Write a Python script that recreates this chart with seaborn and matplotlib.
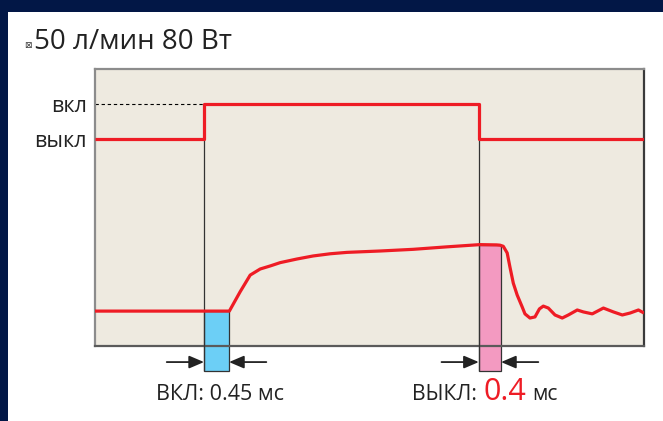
import numpy as np
import pandas as pd
import seaborn as sns
import matplotlib.pyplot as plt

sns.set_theme(style="white")
plt.rcParams['font.family'] = ['Open Sans', 'DejaVu Sans']

# ---------------- data ----------------
title_text = "50 л/мин 80 Вт"
state_labels = ["вкл", "выкл"]
level_on = 87.4      # signal level "вкл"
level_off = 74.7     # signal level "выкл"
t_on = 1.96          # ms, switch-on moment
t_off = 6.90         # ms, switch-off moment
t_end = 9.87
resp_on = 0.45       # ms
resp_off = 0.40      # ms

# control signal (step)
sig_t = [0.0, t_on, t_on, t_off, t_off, t_end]
sig_v = [level_off, level_off, level_on, level_on, level_off, level_off]

# flow response curve
flow_t = [0.0, 2.415, 2.61, 2.79, 2.97, 3.15, 3.33, 3.63, 3.92, 4.23, 4.53,
          5.13, 5.72, 6.33, 6.92, 7.22, 7.28, 7.34, 7.41, 7.46, 7.52, 7.59,
          7.68, 7.73, 7.82, 7.91, 7.99, 8.06, 8.15, 8.27, 8.40, 8.51, 8.67,
          8.78, 8.94, 9.14, 9.32, 9.48, 9.62, 9.77, 9.87]
flow_v = [12.6, 12.6, 19.6, 25.6, 27.8, 28.9, 30.1, 31.4, 32.5, 33.3, 33.8,
          34.3, 34.9, 35.8, 36.6, 36.5, 36.4, 36.0, 33.6, 28.5, 22.7, 18.4,
          14.1, 11.6, 10.1, 10.5, 13.4, 14.4, 13.7, 11.2, 10.1, 11.2, 13.0,
          12.3, 11.6, 13.7, 12.3, 11.2, 11.9, 13.0, 11.9]

on_label = "ВКЛ: 0.45 мс"
off_label = ["ВЫКЛ:", "0.4", "мс"]

# ---------------- style ----------------
W, H = 663, 421
navy = "#021746"
red = "#ee1c25"
beige = "#eeeae0"
blue = "#6ccff6"
pink = "#f39ac1"

fig = plt.figure(figsize=(W / 100, H / 100), dpi=100, facecolor=navy)

# white panel
bg = fig.add_axes([8 / W, 0, 1 - 8 / W, (H - 12) / H], zorder=-5)
bg.set_facecolor("white")
bg.set_xticks([])
bg.set_yticks([])
for s in bg.spines.values():
    s.set_visible(False)

ax = fig.add_axes([95 / W, (H - 346) / H, 549 / W, 277 / H], zorder=1)
ax.set_facecolor(beige)

sig_df = pd.DataFrame({"t": sig_t, "v": sig_v})
flow_df = pd.DataFrame({"t": flow_t, "v": flow_v})

# dashed reference line for "вкл"
ax.plot([0, t_on], [level_on, level_on], color="black", lw=0.8,
        dashes=(3, 2.5), zorder=2)

y_bot = -9.0
y_arrow = -5.8

# vertical guide lines
ax.plot([t_on, t_on], [level_on, y_bot], color="#333333", lw=0.9, clip_on=False, zorder=3)
ax.plot([t_off, t_off], [level_on, y_bot], color="#333333", lw=0.9, clip_on=False, zorder=3)

# response bars
top_on = np.interp(t_on + resp_on, flow_t, flow_v)
top_off = np.interp(t_off, flow_t, flow_v)
ax.bar(t_on, top_on - y_bot, bottom=y_bot, width=resp_on, align="edge",
       color=blue, edgecolor="#333333", linewidth=0.9, clip_on=False, zorder=2)
ax.bar(t_off, top_off - y_bot, bottom=y_bot, width=resp_off, align="edge",
       color=pink, edgecolor="#333333", linewidth=0.9, clip_on=False, zorder=2)

sns.lineplot(data=sig_df, x="t", y="v", sort=False, estimator=None, ax=ax,
             color=red, lw=2.3, zorder=4)
sns.lineplot(data=flow_df, x="t", y="v", sort=False, estimator=None, ax=ax,
             color=red, lw=2.3, zorder=4)
for ln in ax.lines:
    ln.set_solid_joinstyle("round")
    ln.set_solid_capstyle("butt")

ax.set_xlim(0, t_end)
ax.set_ylim(0, 100)
ax.set_xlabel("")
ax.set_ylabel("")
ax.set_xticks([])
ax.set_yticks([level_on, level_off])
ax.set_yticklabels(state_labels, fontsize=15.5, color="#222222")
ax.tick_params(axis="y", length=0, pad=6)

for side, col in [("top", "#8c8c8c"), ("left", "#8c8c8c"),
                  ("right", "#3a3a3a"), ("bottom", "#5a5a5a")]:
    ax.spines[side].set_visible(True)
    ax.spines[side].set_color(col)
    ax.spines[side].set_linewidth(1.6)

# arrows
arrow_len = 0.67
aprops = dict(arrowstyle="-|>,head_length=0.75,head_width=0.32", color="#222222",
              lw=1.3, shrinkA=0, shrinkB=0)
for xa, xb in [(t_on - arrow_len, t_on), (t_on + resp_on + arrow_len, t_on + resp_on),
               (t_off - arrow_len, t_off), (t_off + resp_off + arrow_len, t_off + resp_off)]:
    ax.annotate("", xy=(xb, y_arrow), xytext=(xa, y_arrow), arrowprops=aprops,
                annotation_clip=False)

# labels
fig.text(220 / W, 1 - 400 / H, on_label, ha="center", va="baseline",
         fontsize=15.5, color="#222222")
fig.text(477 / W, 1 - 400 / H, off_label[0], ha="right", va="baseline",
         fontsize=15.2, color="#222222")
fig.text(505 / W, 1 - 400 / H, off_label[1], ha="center", va="baseline",
         fontsize=22, color=red)
fig.text(532 / W, 1 - 400 / H, off_label[2], ha="left", va="baseline",
         fontsize=15.2, color="#222222")

# title
fig.text(24 / W, 1 - 48 / H, "\u22a0", ha="left", va="baseline",
         fontsize=6.5, color="#333333", family="DejaVu Sans")
fig.text(34 / W, 1 - 49 / H, title_text, ha="left", va="baseline",
         fontsize=20, color="#222222")

fig.savefig("out.png", dpi=100, facecolor=navy)
